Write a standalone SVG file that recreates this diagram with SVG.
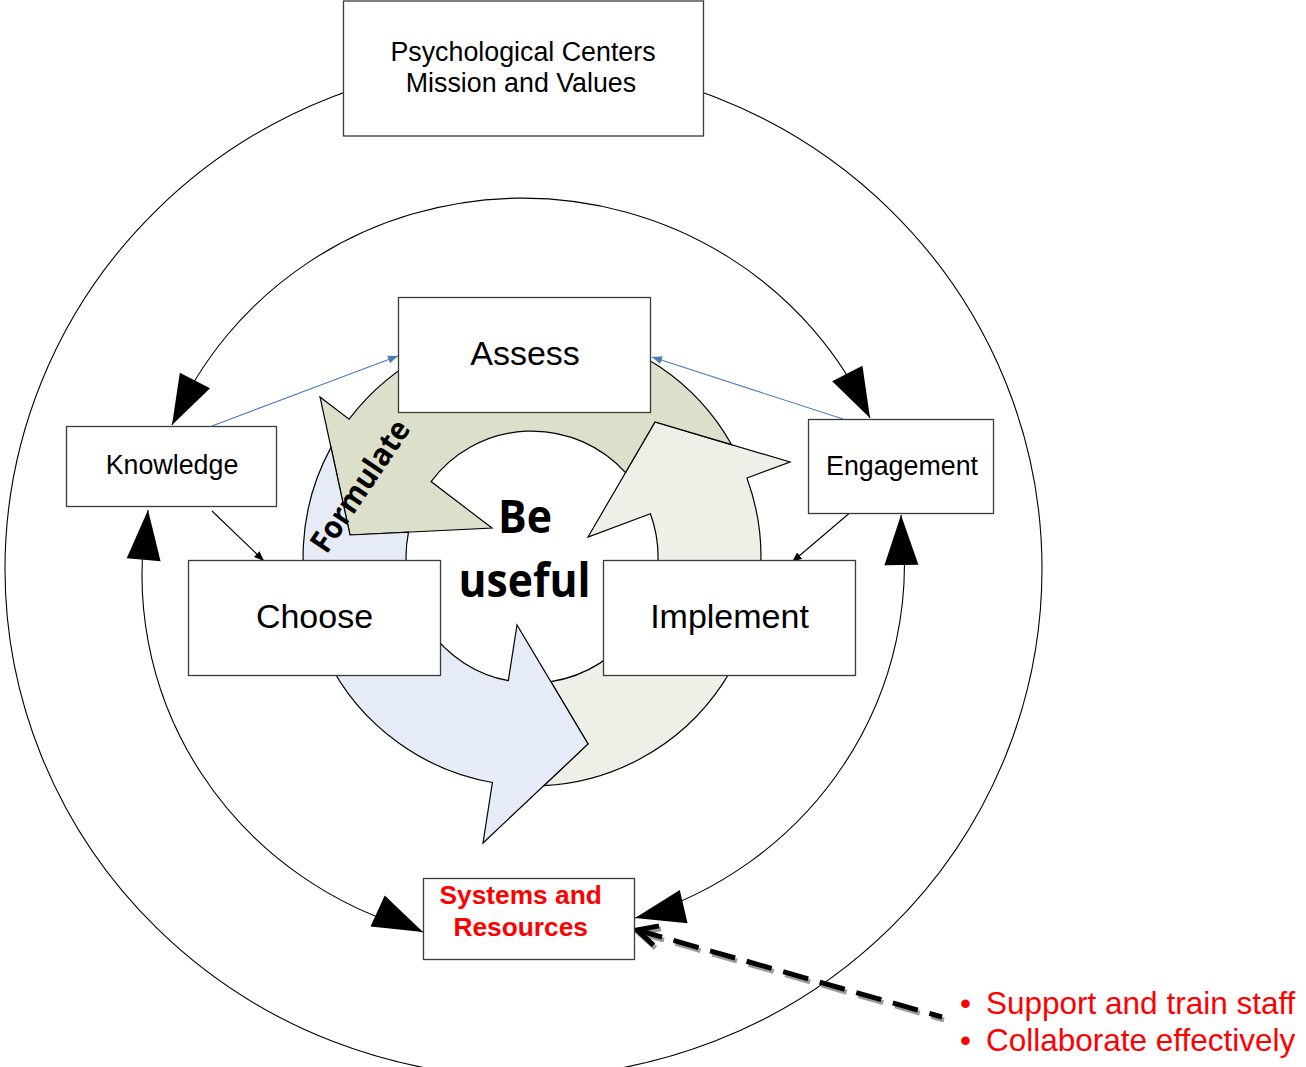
<svg xmlns="http://www.w3.org/2000/svg" width="1306" height="1067" viewBox="0 0 1306 1067">
<style>
.box{fill:#fff;stroke:#3a3a3a;stroke-width:1.3}
.lbl{font-family:"Liberation Sans",Arial,sans-serif;fill:#000;text-anchor:middle}
.ring{fill:none;stroke:#000;stroke-width:1.1}
.cyc{stroke:#000;stroke-width:1.2;stroke-linejoin:miter}
.red{font-family:"Liberation Sans",Arial,sans-serif;fill:#ff0000}
.big{font-family:"Open Sans","Noto Sans",sans-serif;font-weight:700;fill:#000;text-anchor:middle}
</style>
<defs>
<path id="bighead" d="M0,0 L-50,-17 L-50,17 Z" fill="#000"/>
<marker id="smBlue" markerUnits="userSpaceOnUse" viewBox="0 0 10 8" refX="10" refY="4" markerWidth="10" markerHeight="8" orient="auto"><path d="M0,0 L10,4 L0,8 Z" fill="#4a7ebb"/></marker>
<marker id="smBlack" markerUnits="userSpaceOnUse" viewBox="0 0 10 8" refX="10" refY="4" markerWidth="10" markerHeight="8" orient="auto"><path d="M0,0 L10,4 L0,8 Z" fill="#000"/></marker>
<marker id="chev" markerUnits="userSpaceOnUse" viewBox="-26 -16 30 32" refX="0" refY="0" markerWidth="30" markerHeight="32" orient="auto-start-reverse"><path d="M-20,-10 L0,0 L-20,10" fill="none" stroke="#000" stroke-width="5"/></marker>
<marker id="chevSh" markerUnits="userSpaceOnUse" viewBox="-26 -16 30 32" refX="0" refY="0" markerWidth="30" markerHeight="32" orient="auto-start-reverse"><path d="M-20,-10 L0,0 L-20,10" fill="none" stroke="#9a9a9a" stroke-width="5"/></marker>
</defs>
<rect width="1306" height="1067" fill="#fff"/>

<g id="outer-ring">
<ellipse class="ring" cx="523.5" cy="569" rx="518.5" ry="508"/>
</g>

<g id="cycle">
<path class="cyc" fill="#eeefe6" d="M543.8,785.7 L588,744 L550.8,681.6 A126,126 0 0 0 650.4,513.8 L588,537 L655,422 L790,462 L746.9,478 A229,229 0 0 1 543.8,785.7 Z"/>
<path class="cyc" fill="#dce0cb" d="M320,397 L349.1,419.2 A229,229 0 0 1 731.6,444.7 L655,422 L625.5,472.6 A126,126 0 0 0 431.1,481.6 L492,528 L350,535 Z"/>
<path class="cyc" fill="#e5ecf7" d="M331,447.4 L350,535 L408.5,532.1 A126,126 0 0 0 508.3,680.7 L517,625 L588,744 L483,843 L492.4,782.5 A229,229 0 0 1 331,447.4 Z"/>
</g>

<g id="connectors">
<path class="ring" d="M172,425 A380,369.5 0 0 1 870,418"/>
<path class="ring" d="M148,510 A380,369.5 0 0 0 423,932"/>
<path class="ring" d="M901,515 A380,369.5 0 0 1 635,918"/>
<use href="#bighead" transform="translate(172,425) rotate(117.3)"/>
<use href="#bighead" transform="translate(870,418) rotate(63)"/>
<use href="#bighead" transform="translate(148,510) rotate(-85)"/>
<use href="#bighead" transform="translate(901,515) rotate(-90.5)"/>
<use href="#bighead" transform="translate(423,932) rotate(24.8)"/>
<use href="#bighead" transform="translate(635,918) rotate(166.8)"/>
<path d="M212,426 L398,356" fill="none" stroke="#4a7ebb" stroke-width="1.1" marker-end="url(#smBlue)"/>
<path d="M843,419 L652,357" fill="none" stroke="#4a7ebb" stroke-width="1.1" marker-end="url(#smBlue)"/>
<path d="M212,511 L264,561" fill="none" stroke="#000" stroke-width="1.1" marker-end="url(#smBlack)"/>
<path d="M852,511 L792,562" fill="none" stroke="#000" stroke-width="1.1" marker-end="url(#smBlack)"/>
<path d="M639,933 L944,1020" fill="none" stroke="#9a9a9a" stroke-width="5" stroke-dasharray="26 12" marker-start="url(#chevSh)"/>
<path d="M637,930 L942,1017" fill="none" stroke="#000" stroke-width="5" stroke-dasharray="26 12" marker-start="url(#chev)"/>
</g>

<g id="node-psych">
<rect class="box" x="343.5" y="1" width="360" height="135"/>
<text class="lbl" x="523" y="61" font-size="26.8">Psychological Centers</text>
<text class="lbl" x="521" y="92" font-size="26.8">Mission and Values</text>
</g>
<g id="node-assess">
<rect class="box" x="398.5" y="297.5" width="252" height="115"/>
<text class="lbl" x="525" y="365" font-size="34">Assess</text>
</g>
<g id="node-knowledge">
<rect class="box" x="66.5" y="426.5" width="210" height="80"/>
<text class="lbl" x="172" y="474" font-size="26.8">Knowledge</text>
</g>
<g id="node-engagement">
<rect class="box" x="808.5" y="419.5" width="185" height="94"/>
<text class="lbl" x="902" y="475" font-size="26.8">Engagement</text>
</g>
<g id="node-choose">
<rect class="box" x="188.5" y="560.5" width="252" height="115"/>
<text class="lbl" x="314.5" y="628" font-size="34">Choose</text>
</g>
<g id="node-implement">
<rect class="box" x="603.5" y="560.5" width="252" height="115"/>
<text class="lbl" x="729.5" y="628" font-size="34">Implement</text>
</g>
<g id="node-systems">
<rect class="box" x="423.5" y="878.5" width="211" height="81"/>
<text class="red" x="520.7" y="903.5" font-size="26.3" font-weight="700" text-anchor="middle">Systems and</text>
<text class="red" x="520.7" y="936" font-size="26.3" font-weight="700" text-anchor="middle">Resources</text>
</g>
<g id="node-center">
<text class="big" x="525" y="533" font-size="46" textLength="54" lengthAdjust="spacingAndGlyphs">Be</text>
<text class="big" x="524.5" y="597" font-size="46" textLength="132" lengthAdjust="spacingAndGlyphs">useful</text>
<text class="big" transform="translate(369,492) rotate(-56)" font-size="31" textLength="152" lengthAdjust="spacingAndGlyphs">Formulate</text>
</g>
<g id="node-bullets">
<text class="red" y="1013.5" font-size="31.5"><tspan x="960">•</tspan><tspan x="986">Support and train staff</tspan></text>
<text class="red" y="1050.5" font-size="31.5"><tspan x="960">•</tspan><tspan x="986">Collaborate effectively</tspan></text>
</g>
</svg>
